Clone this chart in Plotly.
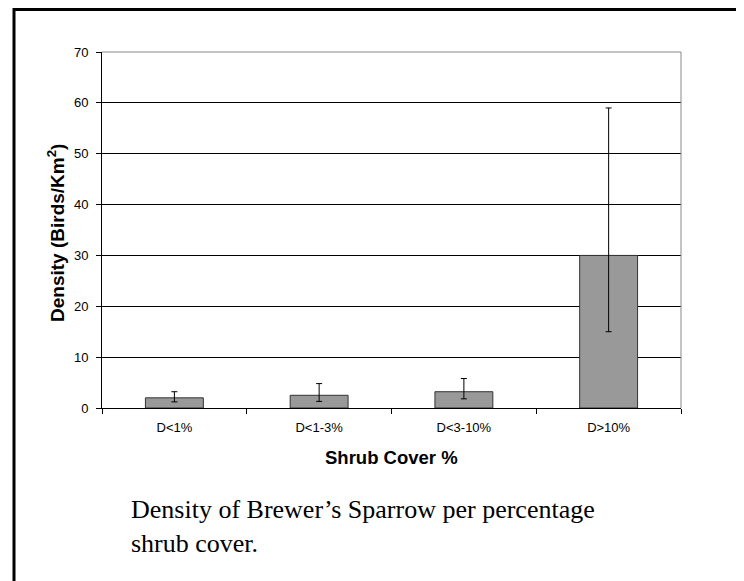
import plotly.graph_objects as go

categories = ["D<1%", "D<1-3%", "D<3-10%", "D>10%"]
density = [2.0, 2.5, 3.2, 30.0]
err_plus = [1.2, 2.3, 2.6, 29.0]
err_minus = [0.8, 1.2, 1.4, 15.0]
y_ticks = [0, 10, 20, 30, 40, 50, 60, 70]

W, H = 744, 581
OFF = 8  # page body margin
L, R, T, B = 102 - OFF, 681 - OFF, 52 - OFF, 408 - OFF

def px_x(p):
    return (p - OFF - L) / (R - L)

def px_y(p):
    return (B - (p - OFF)) / (B - T)

fig = go.Figure()
fig.add_trace(go.Bar(
    x=categories, y=density,
    marker=dict(color="#999999", line=dict(color="#333333", width=1)),
    error_y=dict(type="data", symmetric=False, array=err_plus, arrayminus=err_minus,
                 color="black", thickness=1, width=3),
    width=0.4,
))

fig.update_layout(
    width=W, height=H,
    margin=dict(l=L, r=W - R, t=T, b=H - B),
    paper_bgcolor="white", plot_bgcolor="white",
    showlegend=False,
    font=dict(family="Liberation Sans, Arial", size=13, color="black"),
    xaxis=dict(
        type="category", showline=True, linecolor="black", linewidth=1,
        ticks="outside", tickson="boundaries", ticklen=5, tickcolor="black",
        showgrid=False, tickfont=dict(size=13), ticklabelstandoff=7,
    ),
    yaxis=dict(
        range=[0, 70], tickvals=y_ticks, showline=True, linecolor="black", linewidth=1,
        ticks="outside", ticklen=5, tickcolor="black",
        showgrid=True, gridcolor="black", gridwidth=1, zeroline=False,
        tickfont=dict(size=13), ticklabelstandoff=5,
    ),
    shapes=[
        dict(type="line", xref="paper", yref="paper", x0=0, x1=1, y0=1, y1=1,
             line=dict(color="#888888", width=1), layer="above"),
        dict(type="line", xref="paper", yref="paper", x0=1, x1=1, y0=0, y1=1,
             line=dict(color="#888888", width=1), layer="above"),
        dict(type="rect", xref="paper", yref="paper",
             x0=px_x(14), x1=px_x(739), y0=px_y(9.5), y1=px_y(640),
             line=dict(color="black", width=3), layer="below"),
    ],
    annotations=[
        dict(text="<b>Density (Birds/Km<sup>2</sup>)</b>", textangle=-90,
             xref="paper", yref="paper", x=px_x(56), y=px_y(233),
             xanchor="center", yanchor="middle", showarrow=False,
             font=dict(size=19, family="Liberation Sans, Arial")),
        dict(text="<b>Shrub Cover %</b>",
             xref="paper", yref="paper", x=0.5, y=px_y(457),
             xanchor="center", yanchor="middle", showarrow=False,
             font=dict(size=18.5, family="Liberation Sans, Arial")),
        dict(text="Density of Brewer\u2019s Sparrow per percentage<br>shrub cover.",
             xref="paper", yref="paper", x=px_x(129), y=px_y(493),
             xanchor="left", yanchor="top", align="left", showarrow=False,
             font=dict(size=26, family="Liberation Serif, Times New Roman")),
    ],
)

fig.write_html("out.html")
